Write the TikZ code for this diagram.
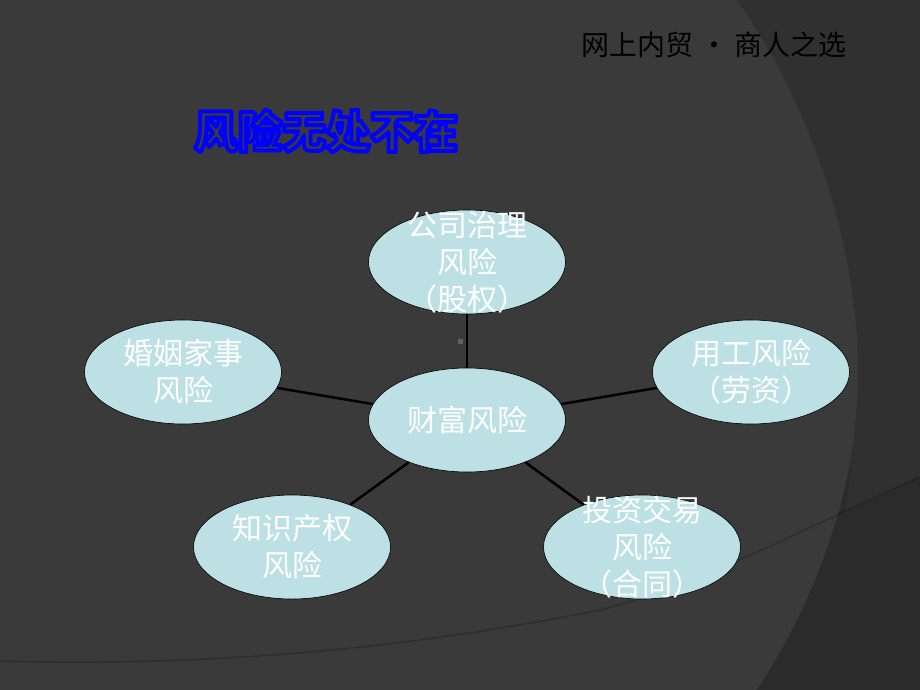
\documentclass[tikz,border=0pt]{standalone}
\usepackage{fontspec}
\setmainfont{Noto Sans CJK SC}
\usetikzlibrary{shapes.geometric}
\definecolor{slidebg}{HTML}{3A3A3A}
\definecolor{slidedark}{HTML}{303030}
\definecolor{slidedarker}{HTML}{2B2B2B}
\definecolor{riskfill}{HTML}{BCE0E3}
\newcommand{\outlinetext}[1]{\special{pdf:literal direct 1 Tr 4 w 1 J 1 j}#1\special{pdf:literal direct 0 Tr}}

\begin{document}
\begin{tikzpicture}[x=1pt,y=-1pt]
\tikzstyle{risk}=[draw=black,line width=0.6pt,ellipse,fill=riskfill,minimum width=197pt,minimum height=104pt,inner sep=0pt]
\tikzstyle{risktext}=[text=white,align=center,inner sep=0pt,font=\fontsize{30}{37}\selectfont]
\tikzstyle{link}=[line width=2.5pt,black]
\tikzstyle{titletext}=[inner sep=0pt,font=\fontsize{44}{44}\selectfont\bfseries]
% background
\useasboundingbox (0,0) rectangle (920,690);
\fill[slidebg] (0,0) rectangle (920,690);
\fill[slidedark] (737,0) .. controls (815,110) and (862,260) .. (858,390)
  .. controls (855,500) and (810,610) .. (757,690) -- (920,690) -- (920,0) -- cycle;
\fill[slidedarker] (920,477) .. controls (890,490) and (870,502) .. (845,512)
  .. controls (850,480) and (856,420) .. (858,390)
  .. controls (855,500) and (810,610) .. (757,690) -- (920,690) -- cycle;
\draw[black,line width=1.5pt,opacity=0.2] (0,661) .. controls (250,668) and (450,640) .. (600,610)
  .. controls (700,585) and (800,530) .. (920,477);
\fill[white!20!slidebg] (458,339) rectangle (463,344);
% header
\node[inner sep=0pt,font=\fontsize{28}{28}\selectfont] (brand) at (714,45) {网上内贸 · 商人之选};
\node[titletext,text=blue] (title) at (326,131) {\outlinetext{风险无处不在}};
% ellipses
\node[risk] (wealth) at (467,420) [label={[risktext]center:财富风险}] {};
\node[risk] (corp) at (467,262) [label={[risktext]center:公司治理\\风险\\（股权）}] {};
\node[risk] (family) at (183,372) [label={[risktext]center:婚姻家事\\风险}] {};
\node[risk] (labour) at (751,372) [label={[risktext]center:用工风险\\（劳资）}] {};
\node[risk] (ip) at (292,547) [label={[risktext]center:知识产权\\风险}] {};
\node[risk] (deal) at (642,547) [label={[risktext]center:投资交易\\风险\\（合同）}] {};
\draw[link] (wealth) -- (corp);
\draw[link] (wealth) -- (family);
\draw[link] (wealth) -- (labour);
\draw[link] (wealth) -- (ip);
\draw[link] (wealth) -- (deal);
\end{tikzpicture}
\end{document}
